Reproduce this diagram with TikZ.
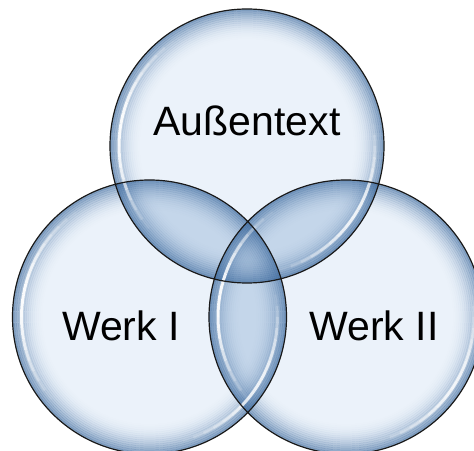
\documentclass[tikz,border=0pt]{standalone}
\usepackage{fontspec}
\setmainfont{Liberation Sans}
\usepackage{tikz}
\def\topcircle{(c top) circle (137pt)}
\def\leftcircle{(c left) circle (137pt)}
\def\rightcircle{(c right) circle (137pt)}
\definecolor{bubble area}{HTML}{EBF2FA}
\definecolor{bubble overlap}{HTML}{C4D6EA}
\definecolor{bubble core}{HTML}{ABC3DE}
\definecolor{bubble rim}{HTML}{3F6B9E}
\tikzset{filled/.style={fill=bubble area},
    rim/.style={draw=bubble rim, line width=2.2pt},
    shine/.style={draw=white, line width=3pt},
    outline/.style={draw=black!90, line width=1.2pt},
    bubble text/.style={font=\fontsize{41}{41}\selectfont}}

\begin{document}
\begin{tikzpicture}
    \useasboundingbox (0,0) rectangle (474pt,450pt);
    \clip (0,0) rectangle (474pt,450pt);
    \coordinate (c top) at (247pt,304pt);
    \coordinate (c left) at (149.5pt,133pt);
    \coordinate (c right) at (346pt,133pt);
    % light bubbles
    \fill[filled] \topcircle \leftcircle \rightcircle;
    % overlaps
    \begin{scope}
        \clip \topcircle;
        \fill[bubble overlap] \leftcircle \rightcircle;
    \end{scope}
    \begin{scope}
        \clip \leftcircle;
        \fill[bubble overlap] \rightcircle;
    \end{scope}
    \begin{scope}
        \clip \topcircle;
        \clip \leftcircle;
        \fill[bubble core] \rightcircle;
    \end{scope}
    % darker rims
    \foreach \bub in {top,left,right}{
        \foreach \k in {0,...,14}{
            \pgfmathsetmacro\op{0.6*(1-\k/15)^2}
            \pgfmathsetmacro\rr{136-2*\k}
            \draw[rim, draw opacity=\op] (c \bub) circle (\rr pt);
        }
    }
    % shine
    \foreach \bub in {top,left,right}{
        \foreach \a in {125,130,...,215}{
            \pgfmathsetmacro\op{0.95*sin((\a+2.5-125)/95*180)}
            \draw[shine, draw opacity=\op] (c \bub) ++(\a:128pt) arc[start angle=\a, end angle=\a+5, radius=128pt];
        }
        \foreach \a in {-75,-70,...,5}{
            \pgfmathsetmacro\op{0.85*sin((\a+2.5+75)/85*180)}
            \draw[shine, draw opacity=\op] (c \bub) ++(\a:128pt) arc[start angle=\a, end angle=\a+5, radius=128pt];
        }
    }
    \draw[outline] \topcircle \leftcircle \rightcircle;
    \node[bubble text] (aussen) at (247pt,329pt) {Außentext};
    \node[bubble text] (werk1) at (121pt,124pt) {Werk I};
    \node[bubble text] (werk2) at (374pt,124pt) {Werk II};
\end{tikzpicture}
\end{document}
